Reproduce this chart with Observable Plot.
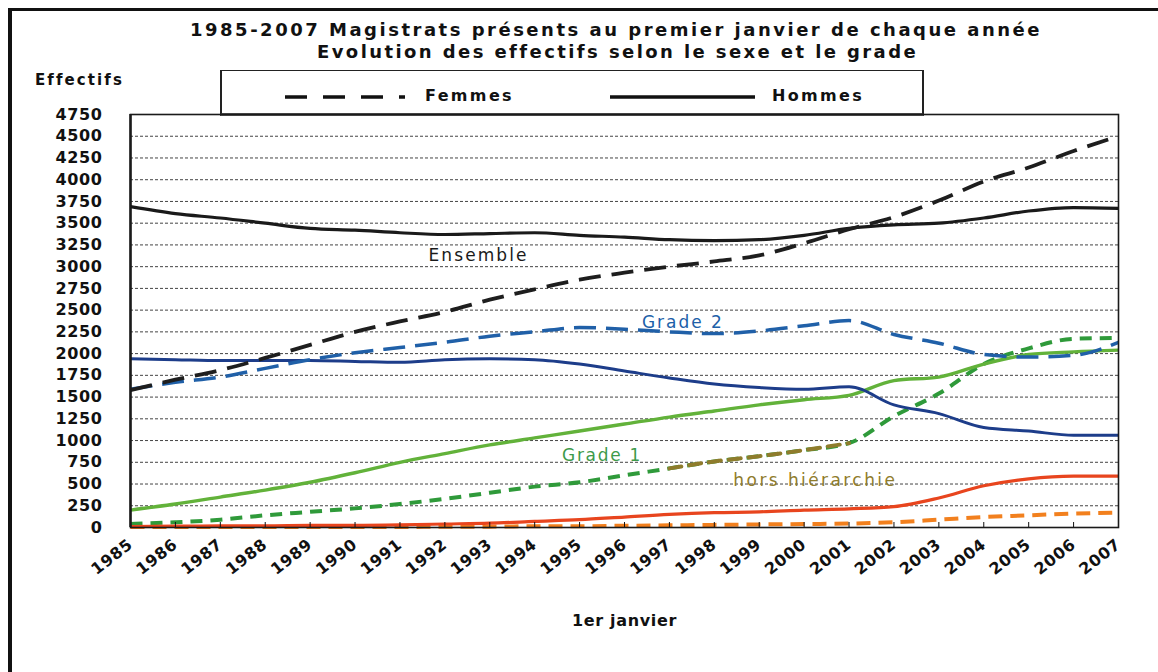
<!DOCTYPE html>
<html>
<head>
<meta charset="utf-8">
<script src="https://cdn.jsdelivr.net/npm/d3@7"></script>
<script src="https://cdn.jsdelivr.net/npm/@observablehq/plot@0.6"></script>
<style>
  html, body { margin: 0; padding: 0; background: #fff; }
  #wrap { position: relative; width: 1158px; height: 672px; overflow: hidden; background: #fff;
          font-family: "DejaVu Sans", "Liberation Sans", Arial, sans-serif; color: #111; }
  .abs { position: absolute; white-space: nowrap; }
  .t { font-weight: bold; }
  #plot { position: absolute; left: 0; top: 60px; }
</style>
</head>
<body>
<div id="wrap">
  <div class="abs" style="left:8px;top:8px;width:4px;height:664px;background:#111"></div>
  <div class="abs" style="left:8px;top:8px;width:1150px;height:3px;background:#111"></div>

  <div id="title1" class="abs t" style="top:20px;font-size:18px;line-height:20px;">1985-2007 Magistrats présents au premier janvier de chaque année</div>
  <div id="title2" class="abs t" style="top:42px;font-size:18px;line-height:20px;">Evolution des effectifs selon le sexe et le grade</div>
  <div id="ylab" class="abs t" style="left:35px;top:72px;font-size:15px;line-height:16px;">Effectifs</div>

  <div class="abs" style="left:220px;top:70px;width:700px;height:42px;border-top:1.5px solid #222;border-left:2px solid #222;border-right:2px solid #222;border-bottom:3px solid #555;"></div>
  <svg class="abs" style="left:0;top:0" width="1158" height="130">
    <line x1="285" x2="405" y1="97" y2="97" stroke="#111" stroke-width="3.5" stroke-dasharray="22,16"/>
    <line x1="610" x2="755" y1="97" y2="97" stroke="#111" stroke-width="3.5"/>
  </svg>
  <div id="legF" class="abs t" style="left:425px;top:87px;font-size:16px;line-height:18px;">Femmes</div>
  <div id="legH" class="abs t" style="left:772px;top:87px;font-size:16px;line-height:18px;">Hommes</div>

  <div id="plot"></div>
</div>
<script>
// ---------- data ----------
const years = [1985,1986,1987,1988,1989,1990,1991,1992,1993,1994,1995,1996,1997,1998,1999,2000,2001,2002,2003,2004,2005,2006,2007];

const ensembleHommes = [3690,3610,3560,3500,3440,3420,3390,3370,3380,3390,3360,3340,3310,3300,3310,3360,3440,3480,3500,3560,3640,3680,3670];
const ensembleFemmes = [1580,1700,1810,1950,2100,2250,2370,2480,2620,2740,2850,2930,3000,3060,3130,3270,3430,3570,3760,3980,4140,4330,4500];
const grade2Hommes   = [1940,1930,1920,1920,1920,1910,1900,1930,1940,1930,1880,1800,1720,1650,1610,1590,1620,1410,1310,1150,1110,1060,1060];
const grade2Femmes   = [1590,1670,1730,1830,1930,2010,2070,2130,2200,2250,2300,2280,2250,2230,2260,2320,2380,2220,2120,1990,1960,1980,2130];
const grade1Hommes   = [200,270,350,430,520,630,750,850,950,1030,1110,1190,1270,1340,1410,1470,1520,1690,1730,1880,1990,2020,2040];
const grade1Femmes   = [40,60,90,140,180,220,270,330,400,470,520,600,680,760,820,890,970,1280,1540,1880,2060,2170,2180];
const horsHommes     = [10,15,20,20,25,25,30,40,50,70,90,120,150,170,180,200,215,240,340,480,560,590,590];
const horsFemmes     = [5,5,5,5,5,5,5,10,10,15,15,20,25,30,35,40,45,60,90,120,140,160,170];

const yTicks = [0,250,500,750,1000,1250,1500,1750,2000,2250,2500,2750,3000,3250,3500,3750,4000,4250,4500,4750];
const gridTicks = [250,500,750,1000,1250,1500,1750,2000,2250,2500,2750,3000,3250,3500,3750,4000,4250,4500];

const seriesDefs = [
  {key: "grade1Femmes", values: grade1Femmes, stroke: "#2f9a3a", dash: "12,8", width: 4},
  {key: "horsFemmes", values: horsFemmes, stroke: "#f2801e", dash: "14,8", width: 4},
  {key: "horsHommes", values: horsHommes, stroke: "#e8451e", dash: null, width: 3.2},
  {key: "grade1Hommes", values: grade1Hommes, stroke: "#62b23a", dash: null, width: 3.4},
  {key: "grade2Hommes", values: grade2Hommes, stroke: "#1d3d8a", dash: null, width: 3},
  {key: "grade2Femmes", values: grade2Femmes, stroke: "#2060a8", dash: "22,10", width: 3.5},
  {key: "ensembleHommes", values: ensembleHommes, stroke: "#1a1a1a", dash: null, width: 3.2},
  {key: "ensembleFemmes", values: ensembleFemmes, stroke: "#1e1e1e", dash: "22,11", width: 3.8}
];
const rows = (vals) => years.map((y, i) => ({year: y, value: vals[i]}));

const labels = [
  {text: "Ensemble", year: 1992.75, value: 3125, color: "#1a1a1a", weight: "bold"},
  {text: "Grade 2", year: 1997.3, value: 2360, color: "#2060a8", weight: "normal"},
  {text: "Grade 1", year: 1995.5, value: 830, color: "#3d9a4a", weight: "normal"},
  {text: "hors hiérarchie", year: 2000.25, value: 540, color: "#8f7c2c", weight: "normal"}
];

// ---------- chart ----------
const lineMarks = seriesDefs.map(s => Plot.line(rows(s.values), {
  x: "year", y: "value", stroke: s.stroke, strokeWidth: s.width,
  strokeDasharray: s.dash || undefined, curve: "monotone-x", strokeLinecap: "butt"
}));
// olive stretch of Grade 1 Femmes between 1997 and 2001
const oliveSeg = Plot.line(rows(grade1Femmes).filter(d => d.year >= 1997 && d.year <= 2001), {
  x: "year", y: "value", stroke: "#8f7c2c", strokeWidth: 4, strokeDasharray: "12,8", curve: "monotone-x"
});

const chart = Plot.plot({
  width: 1158, height: 612,
  marginLeft: 130, marginRight: 40, marginTop: 54, marginBottom: 145,
  style: {fontFamily: "'DejaVu Sans', 'Liberation Sans', Arial, sans-serif", color: "#111", background: "transparent"},
  x: {domain: [1985, 2007]},
  y: {domain: [0, 4750]},
  marks: [
    Plot.ruleY(gridTicks, {stroke: "#444", strokeWidth: 1, strokeDasharray: "3,2"}),
    ...lineMarks,
    oliveSeg,
    Plot.text(labels, {x: "year", y: "value", text: "text", fill: "color", fontSize: 17,
      fontWeight: d => d.weight}),
    Plot.axisY({ticks: yTicks, tickSize: 0, tickPadding: 28, fontSize: 16, fontWeight: "bold", label: null, tickFormat: d => String(d)}),
    Plot.axisX({ticks: years, tickSize: -5, tickFormat: () => "", label: null}),
    Plot.axisX({ticks: years, tickSize: 0, tickPadding: 15, tickRotate: -38, fontSize: 16, fontWeight: "bold",
      tickFormat: d => String(d), label: "1er janvier", labelAnchor: "center", labelArrow: "none", labelOffset: 98}),
    Plot.frame({stroke: "#1a1a1a", strokeWidth: 1.6}),
    Plot.ruleX([1985], {stroke: "#1a1a1a", strokeWidth: 2.5})
  ]
});
document.getElementById("plot").appendChild(chart);

// ---------- fit text widths to the reference ----------
function fitHTML(id, left, right) {
  const el = document.getElementById(id);
  el.style.letterSpacing = "0px";
  const w = el.getBoundingClientRect().width;
  const n = el.textContent.length;
  const ls = (right - left - w) / n;
  el.style.letterSpacing = ls + "px";
  el.style.left = left + "px";
}
fitHTML("title1", 190, 1042);
fitHTML("title2", 317, 917);
fitHTML("ylab", 35, 123);
fitHTML("legF", 425, 514);
fitHTML("legH", 772, 864);

function fitSVGGroup(texts, sample, target) {
  if (!sample) return;
  sample.setAttribute("letter-spacing", "0");
  const w = sample.getComputedTextLength();
  const ls = (target - w) / sample.textContent.length;
  texts.forEach(t => t.setAttribute("letter-spacing", ls));
}
const svg = chart.tagName.toLowerCase() === "svg" ? chart : chart.querySelector("svg");
const yTexts = [...svg.querySelectorAll('g[aria-label="y-axis tick label"] text')];
fitSVGGroup(yTexts, yTexts.find(t => t.textContent === "4750"), 47);
const xTexts = [...svg.querySelectorAll('g[aria-label="x-axis tick label"] text')].filter(t => t.textContent.length);
fitSVGGroup(xTexts, xTexts[0], 47);
const xl = svg.querySelector('g[aria-label="x-axis label"] text');
if (xl) { xl.setAttribute("font-size", 16); fitSVGGroup([xl], xl, 105); }
const lab = [...svg.querySelectorAll('g[aria-label="text"] text')];
const targets = {"Ensemble": 100, "Grade 2": 82, "Grade 1": 80, "hors hiérarchie": 164};
lab.forEach(t => fitSVGGroup([t], t, targets[t.textContent] || t.getComputedTextLength()));
</script>
</body>
</html>
